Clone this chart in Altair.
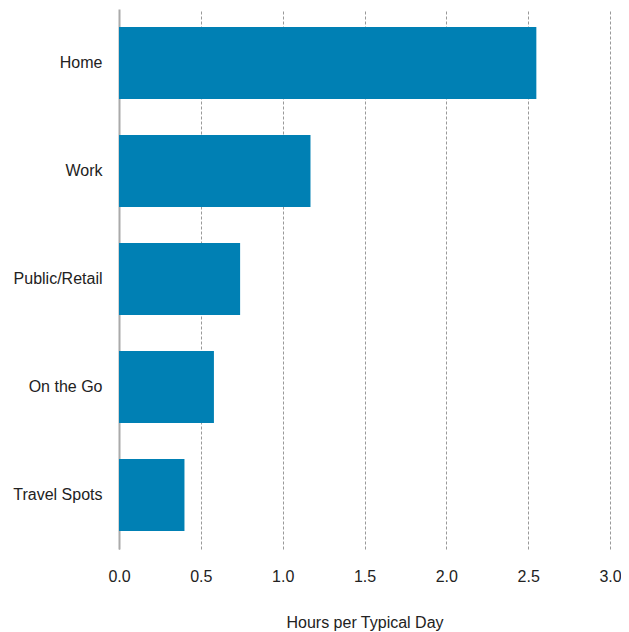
import altair as alt
import pandas as pd

categories = ["Home", "Work", "Public/Retail", "On the Go", "Travel Spots"]
hours = [2.55, 1.17, 0.74, 0.58, 0.40]

df = pd.DataFrame({"category": categories, "hours": hours})

chart = alt.Chart(df).mark_bar(color="#0080B4").encode(
    x=alt.X("hours:Q", title="Hours per Typical Day",
            scale=alt.Scale(domain=[0, 3], nice=False),
            axis=alt.Axis(values=[0, 0.5, 1, 1.5, 2, 2.5, 3], format=".1f",
                          domain=False, ticks=False, grid=True, labelFlush=False,
                          gridColor="#999999", gridDash=[3, 2], gridWidth=1,
                          labelFontSize=16, labelFont="Liberation Sans", labelColor="#222222",
                          labelPadding=19, titleFontSize=16, titleFont="Liberation Sans",
                          titleFontWeight="normal", titleColor="#222222", titlePadding=30)),
    y=alt.Y("category:N", sort=categories, title=None,
            scale=alt.Scale(paddingInner=0.3333, paddingOuter=0.1667),
            axis=alt.Axis(domain=True, domainColor="#aaaaaa", domainWidth=2, ticks=False,
                          labelFontSize=16, labelFont="Liberation Sans", labelColor="#222222",
                          labelPadding=17)),
).properties(
    width=491, height=540,
    autosize=alt.AutoSizeParams(type="none"),
    padding={"left": 111, "top": 1, "right": 11, "bottom": 82},
).configure_view(stroke=None).configure_axis(gridOpacity=1)

chart.save("out.html", embed_options={"renderer": "svg", "actions": False})
